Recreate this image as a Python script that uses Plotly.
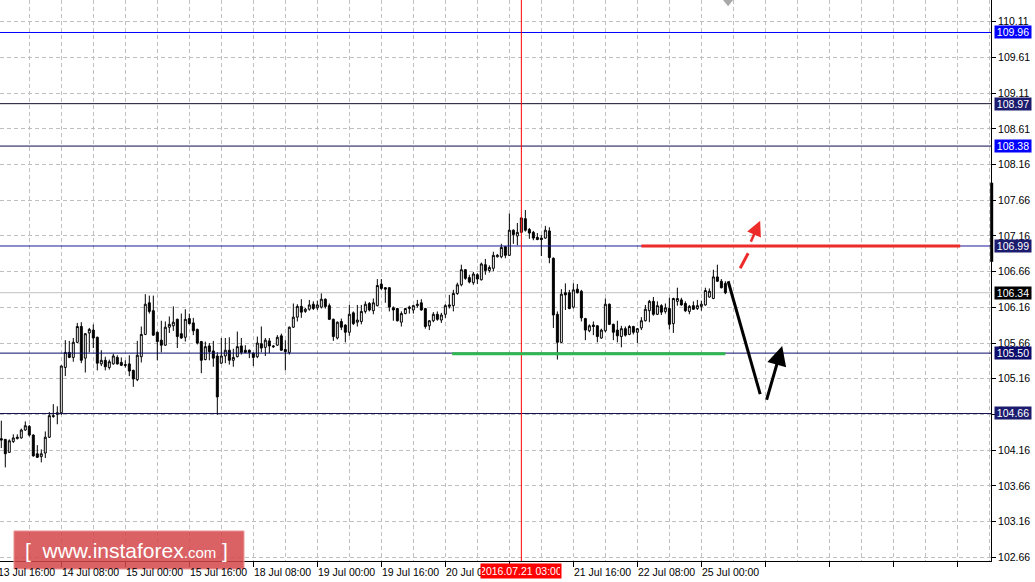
import plotly.graph_objects as go

# ---------------- data (USDJPY H1, candle 0 = 13 Jul 17:00) ----------------
opens = [104.31, 104.30, 104.12, 104.27, 104.31, 104.32, 104.43, 104.48, 104.36, 104.10,
         104.06, 104.11, 104.33, 104.63, 104.67, 104.67, 105.30, 105.51, 105.44, 105.65,
         105.87, 105.43, 105.78, 105.82, 105.72, 105.35, 105.40, 105.30, 105.35, 105.44,
         105.37, 105.34, 105.35, 105.26, 105.13, 105.45, 105.76, 106.20, 106.09, 105.79,
         105.68, 105.61, 105.86, 105.88, 105.97, 105.77, 105.72, 105.98, 105.92, 105.83,
         105.66, 105.41, 105.60, 105.53, 105.46, 105.36, 105.46, 105.54, 105.40, 105.45,
         105.60, 105.54, 105.54, 105.50, 105.45, 105.63, 105.58, 105.67, 105.60, 105.61,
         105.74, 105.55, 105.51, 105.86, 106.00, 106.15, 106.08, 106.11, 106.18, 106.13,
         106.14, 106.25, 106.16, 105.97, 105.71, 105.94, 105.89, 105.79, 106.06, 105.93,
         105.94, 106.08, 106.19, 106.09, 106.16, 106.46, 106.41, 106.41, 106.13, 106.12,
         105.93, 106.05, 106.12, 106.10, 106.16, 106.20, 106.12, 105.88, 105.95, 106.04,
         105.96, 106.04, 106.15, 106.16, 106.33, 106.45, 106.66, 106.55, 106.48, 106.59,
         106.52, 106.73, 106.65, 106.68, 106.84, 106.84, 106.98, 106.86, 107.21, 107.13,
         107.18, 107.37, 107.22, 107.18, 107.11, 107.10, 107.10, 107.20, 106.82, 106.04,
         105.65, 106.34, 106.34, 106.14, 106.39, 106.36, 105.98, 105.81, 105.89, 105.88,
         105.71, 105.81, 106.18, 105.90, 105.82, 105.73, 105.84, 105.76, 105.87, 105.79,
         105.85, 105.95, 106.09, 106.22, 106.04, 106.16, 106.08, 106.12, 105.91, 106.22,
         106.24, 106.19, 106.08, 106.16, 106.12, 106.15, 106.17, 106.28, 106.26, 106.56,
         106.50, 106.47]
highs = [104.56, 104.30, 104.30, 104.37, 104.37, 104.45, 104.55, 104.50, 104.37, 104.22,
         104.16, 104.41, 104.68, 104.79, 104.76, 105.33, 105.68, 105.67, 105.71, 105.92,
         105.93, 105.78, 105.85, 105.90, 105.73, 105.54, 105.45, 105.41, 105.49, 105.47,
         105.44, 105.40, 105.47, 105.27, 105.67, 105.87, 106.32, 106.30, 106.30, 105.80,
         105.95, 105.94, 106.01, 106.15, 105.98, 106.05, 106.11, 106.05, 105.99, 105.84,
         105.67, 105.66, 105.64, 105.67, 105.51, 105.71, 105.71, 105.72, 105.56, 105.80,
         105.71, 105.61, 105.55, 105.51, 105.73, 105.87, 105.71, 105.71, 105.61, 105.75,
         105.77, 105.68, 105.87, 106.19, 106.18, 106.25, 106.13, 106.24, 106.22, 106.23,
         106.33, 106.26, 106.19, 105.98, 105.94, 105.98, 105.90, 106.17, 106.08, 106.17,
         106.17, 106.22, 106.21, 106.26, 106.53, 106.53, 106.42, 106.42, 106.15, 106.13,
         106.08, 106.13, 106.16, 106.17, 106.24, 106.25, 106.13, 105.96, 106.07, 106.08,
         106.06, 106.18, 106.31, 106.38, 106.48, 106.73, 106.67, 106.59, 106.63, 106.61,
         106.76, 106.81, 106.72, 106.91, 106.88, 107.02, 106.99, 107.44, 107.22, 107.31,
         107.39, 107.49, 107.24, 107.20, 107.17, 107.14, 107.27, 107.25, 106.83, 106.08,
         106.39, 106.47, 106.38, 106.47, 106.46, 106.38, 105.99, 105.90, 105.94, 105.89,
         105.84, 106.26, 106.19, 105.91, 105.95, 105.88, 105.87, 105.89, 105.88, 105.85,
         106.00, 106.17, 106.24, 106.28, 106.22, 106.18, 106.19, 106.27, 106.27, 106.41,
         106.27, 106.22, 106.17, 106.22, 106.24, 106.23, 106.41, 106.40, 106.66, 106.73,
         106.53, 106.50]
lows = [104.18, 103.91, 104.11, 104.25, 104.30, 104.31, 104.42, 104.34, 104.06, 104.04,
        103.98, 104.04, 104.32, 104.60, 104.51, 104.64, 105.18, 105.43, 105.38, 105.64,
        105.36, 105.23, 105.51, 105.57, 105.26, 105.32, 105.26, 105.27, 105.34, 105.34,
        105.32, 105.30, 105.18, 105.03, 105.11, 105.37, 105.75, 106.05, 105.74, 105.40,
        105.51, 105.60, 105.78, 105.81, 105.57, 105.70, 105.66, 105.90, 105.75, 105.62,
        105.22, 105.40, 105.40, 105.31, 104.64, 105.35, 105.36, 105.34, 105.31, 105.44,
        105.48, 105.50, 105.43, 105.32, 105.43, 105.51, 105.46, 105.50, 105.57, 105.60,
        105.53, 105.26, 105.48, 105.85, 105.94, 105.99, 106.06, 106.09, 106.10, 106.10,
        106.12, 106.12, 105.96, 105.67, 105.69, 105.82, 105.65, 105.74, 105.89, 105.87,
        105.90, 106.05, 106.08, 106.04, 106.15, 106.38, 106.20, 106.08, 105.95, 105.94,
        105.87, 106.04, 106.05, 106.05, 106.13, 106.09, 105.84, 105.82, 105.93, 105.95,
        105.92, 105.99, 106.12, 106.08, 106.31, 106.43, 106.52, 106.47, 106.45, 106.46,
        106.51, 106.59, 106.62, 106.64, 106.83, 106.82, 106.82, 106.85, 107.02, 107.00,
        107.17, 107.19, 107.09, 107.07, 107.07, 106.85, 107.09, 106.75, 105.85, 105.41,
        105.64, 106.10, 106.11, 106.12, 106.33, 105.94, 105.68, 105.79, 105.75, 105.65,
        105.70, 105.79, 105.89, 105.68, 105.65, 105.58, 105.73, 105.75, 105.76, 105.64,
        105.82, 105.94, 105.93, 106.02, 106.03, 106.03, 106.05, 105.83, 105.78, 106.16,
        106.16, 106.07, 106.04, 106.10, 106.10, 106.09, 106.16, 106.27, 106.25, 106.49,
        106.40, 106.32]
closes = [104.29, 104.10, 104.28, 104.32, 104.33, 104.43, 104.49, 104.36, 104.07, 104.05,
          104.10, 104.33, 104.63, 104.62, 104.65, 105.32, 105.51, 105.44, 105.65, 105.87,
          105.40, 105.77, 105.83, 105.71, 105.36, 105.40, 105.31, 105.38, 105.46, 105.35,
          105.33, 105.33, 105.25, 105.14, 105.47, 105.76, 106.18, 106.08, 105.75, 105.66,
          105.61, 105.86, 105.90, 105.93, 105.73, 105.71, 105.97, 105.91, 105.81, 105.64,
          105.40, 105.59, 105.52, 105.43, 104.89, 105.46, 105.54, 105.40, 105.44, 105.59,
          105.51, 105.51, 105.51, 105.44, 105.64, 105.57, 105.68, 105.60, 105.59, 105.72,
          105.54, 105.52, 105.86, 106.00, 106.15, 106.07, 106.11, 106.17, 106.12, 106.17,
          106.25, 106.15, 105.97, 105.73, 105.93, 105.86, 105.79, 106.04, 105.91, 105.96,
          106.08, 106.18, 106.10, 106.20, 106.44, 106.40, 106.39, 106.14, 106.10, 105.95,
          106.05, 106.12, 106.14, 106.16, 106.18, 106.10, 105.87, 105.95, 106.04, 105.97,
          106.03, 106.16, 106.17, 106.33, 106.45, 106.66, 106.54, 106.49, 106.60, 106.53,
          106.74, 106.65, 106.69, 106.86, 106.86, 106.97, 106.86, 107.21, 107.15, 107.18,
          107.38, 107.21, 107.17, 107.10, 107.08, 107.08, 107.21, 106.83, 106.03, 105.65,
          106.32, 106.31, 106.12, 106.38, 106.34, 105.99, 105.82, 105.88, 105.87, 105.73,
          105.82, 106.18, 105.90, 105.79, 105.74, 105.84, 105.75, 105.87, 105.79, 105.84,
          105.95, 106.11, 106.22, 106.04, 106.16, 106.07, 106.13, 105.90, 106.26, 106.26,
          106.17, 106.09, 106.15, 106.11, 106.16, 106.18, 106.37, 106.36, 106.56, 106.50,
          106.41, 106.34]

# time axis labels (candle index of the tick, text); the 21 Jul 00:00 label is
# hidden under the cursor label in the original, so it is not listed
time_tick_idx = [-1, 15, 31, 47, 63, 79, 95, 111, 127, 143, 159, 175]
time_tick_text = ["13 Jul 16:00", "14 Jul 08:00", "15 Jul 00:00", "15 Jul 16:00",
                  "18 Jul 08:00", "19 Jul 00:00", "19 Jul 16:00", "20 Jul 08:00",
                  "", "21 Jul 16:00", "22 Jul 08:00", "25 Jul 00:00"]
cursor_idx = 130
cursor_text = "2016.07.21 03:00"

# price axis labels
price_tick_text = ["110.11", "109.61", "109.11", "108.61", "108.16", "107.66", "107.16",
                   "106.66", "106.16", "105.66", "105.16", "104.66", "104.16", "103.66",
                   "103.16", "102.66"]
price_top, price_step = 110.11, 0.4967

# horizontal levels
levels = [109.96, 108.97, 108.38, 106.99, 105.50, 104.66]
level_line_colors = ["#0000ff", "#101030", "#0c0c50", "#1a1a96", "#0d0d6b", "#121250"]
level_label_bg = ["#0000ff", "#1c1c6e", "#0000ff", "#1c1c6e", "#0d0d6b", "#1c1c6e"]
current_price = 106.34

# hand-drawn analysis marks (candle index, price)
red_level = dict(x0=160, x1=239.7, y=106.99)
green_level = dict(x0=112.7, x1=181, y=105.49)
down_leg = dict(x0=181.7, y0=106.50, x1=189.7, y1=104.93)
up_arrow = dict(tail=(191.2, 104.83), tip=(195.2, 105.60))
red_dash = dict(x0=184.7, y0=106.68, x1=186.7, y1=106.89)
red_arrow = dict(tail=(187.2, 107.03), tip=(189.7, 107.34))
range_bar = (107.87, 106.77)

# ---------------- figure ----------------
idx = list(range(len(closes)))
X_RANGE = [-0.325, 247.4]
Y_RANGE = [102.608, 110.412]
FONT = "Liberation Sans"
FS = 10.5

fig = go.Figure()
fig.add_trace(go.Candlestick(
    x=idx, open=opens, high=highs, low=lows, close=closes,
    increasing=dict(fillcolor="white", line=dict(color="black", width=1)),
    decreasing=dict(fillcolor="black", line=dict(color="black", width=1)),
    whiskerwidth=0, hoverinfo="skip", showlegend=False,
))

grid_col = "#c0c0c0"
price_tickvals = [price_top - price_step * i for i in range(len(price_tick_text))]
minor_vals = [t - 8 for t in time_tick_idx] + [time_tick_idx[-1] + 8 + 16 * j for j in range(5)]
major_vals = time_tick_idx + [time_tick_idx[-1] + 16 * j for j in range(1, 5)]

fig.update_xaxes(
    range=X_RANGE, rangeslider=dict(visible=False),
    tickvals=major_vals, showticklabels=False, ticks="outside", ticklen=5,
    tickcolor="black", showgrid=True, gridcolor=grid_col, griddash="4px,3px",
    gridwidth=1, showline=True, linecolor="black", linewidth=1, zeroline=False,
    minor=dict(tickvals=minor_vals, showgrid=True, gridcolor=grid_col,
               griddash="4px,3px", ticks=""),
)
fig.update_yaxes(
    range=Y_RANGE, side="right", tickvals=price_tickvals, ticktext=price_tick_text,
    ticks="outside", ticklen=4, tickcolor="black", showgrid=True, gridcolor=grid_col,
    griddash="4px,3px", showline=True, linecolor="black", linewidth=1, zeroline=False,
    tickfont=dict(family=FONT, size=FS, color="black"),
)

shapes = []
shapes.append(dict(type="line", xref="paper", x0=0, x1=1, yref="y", y0=current_price,
                   y1=current_price, line=dict(color="#c0c0c0", width=1), layer="below"))
for lv, c in zip(levels, level_line_colors):
    shapes.append(dict(type="line", xref="paper", x0=0, x1=1, yref="y", y0=lv, y1=lv,
                       line=dict(color=c, width=1)))
shapes.append(dict(type="line", xref="x", x0=cursor_idx, x1=cursor_idx, yref="paper",
                   y0=0, y1=1, line=dict(color="#ff0000", width=1)))
shapes.append(dict(type="line", x0=red_level["x0"], x1=red_level["x1"], y0=red_level["y"],
                   y1=red_level["y"], line=dict(color="#ee2b2b", width=3)))
shapes.append(dict(type="line", x0=green_level["x0"], x1=green_level["x1"],
                   y0=green_level["y"], y1=green_level["y"],
                   line=dict(color="#2fb84f", width=3)))
shapes.append(dict(type="line", x0=down_leg["x0"], y0=down_leg["y0"], x1=down_leg["x1"],
                   y1=down_leg["y1"], line=dict(color="black", width=3)))
shapes.append(dict(type="line", x0=red_dash["x0"], y0=red_dash["y0"], x1=red_dash["x1"],
                   y1=red_dash["y1"], line=dict(color="#ee2b2b", width=3)))
shapes.append(dict(type="line", xref="paper", x0=1.0007, x1=1.0007, yref="y",
                   y0=range_bar[0], y1=range_bar[1], line=dict(color="black", width=3)))
shapes.append(dict(type="path", xref="paper", yref="paper",
                   path="M 0.7296 1 L 0.7397 1 L 0.7347 0.989 Z",
                   fillcolor="#a8a8a8", line=dict(width=0)))
shapes.append(dict(type="rect", xref="paper", yref="paper", x0=0.0141, x1=0.2462,
                   y0=-0.0143, y1=0.0535, fillcolor="rgba(212,70,74,0.85)",
                   line=dict(color="rgba(235,150,150,1)", width=1)))
fig.update_layout(shapes=shapes)

ann = []
axis_font = dict(family=FONT, size=FS, color="black")
for k, t in zip(time_tick_idx, time_tick_text):
    if not t:
        continue
    xs = -1
    xk = k
    if k < X_RANGE[0]:
        xs = int(round((k - (-0.3)) * 4)) - 1
        xk = -0.3
    ann.append(dict(x=xk, y=0, xref="x", yref="paper", text=t, showarrow=False,
                    xanchor="left", yanchor="top", xshift=xs, yshift=-3, font=axis_font))
ann.append(dict(x=cursor_idx, y=0, xref="x", yref="paper", text=cursor_text,
                showarrow=False, xanchor="center", yanchor="top", yshift=-2,
                bgcolor="#ff0000", borderpad=1, width=78, xshift=-0.5,
                font=dict(family=FONT, size=FS, color="white")))
for lv, bg in zip(levels, level_label_bg):
    ann.append(dict(x=1, y=lv, xref="paper", yref="y", text=f"{lv:.2f}", showarrow=False,
                    xanchor="left", yanchor="middle", xshift=3, bgcolor=bg, width=36,
                    height=12, borderpad=0,
                    font=dict(family=FONT, size=FS, color="white")))
ann.append(dict(x=1, y=current_price, xref="paper", yref="y", text=f"{current_price:.2f}",
                showarrow=False, xanchor="left", yanchor="middle", xshift=3,
                bgcolor="black", width=36, height=12, borderpad=0,
                font=dict(family=FONT, size=FS, color="white")))
ann.append(dict(x=up_arrow["tip"][0], y=up_arrow["tip"][1], ax=up_arrow["tail"][0],
                ay=up_arrow["tail"][1], xref="x", yref="y", axref="x", ayref="y",
                showarrow=True, arrowhead=2, arrowsize=1.3, arrowwidth=3,
                arrowcolor="black", text=""))
ann.append(dict(x=red_arrow["tip"][0], y=red_arrow["tip"][1], ax=red_arrow["tail"][0],
                ay=red_arrow["tail"][1], xref="x", yref="y", axref="x", ayref="y",
                showarrow=True, arrowhead=2, arrowsize=1.2, arrowwidth=2.5,
                arrowcolor="#ee2b2b", text=""))
ann.append(dict(x=0.128, y=0.0196, xref="paper", yref="paper", showarrow=False,
                text="[ &nbsp;www.instaforex<span style='font-size:15px'>.com</span> ]",
                font=dict(family=FONT, size=21, color="white"),
                xanchor="center", yanchor="middle"))
fig.update_layout(annotations=ann)

fig.update_layout(
    width=1035, height=582, margin=dict(l=0, r=44, t=0, b=21, pad=0),
    paper_bgcolor="white", plot_bgcolor="white", showlegend=False,
    boxgap=0.3,
)
fig.write_html("out.html", config={"displayModeBar": False},
               post_script="document.body.style.margin='0';document.body.style.overflow='hidden';")
